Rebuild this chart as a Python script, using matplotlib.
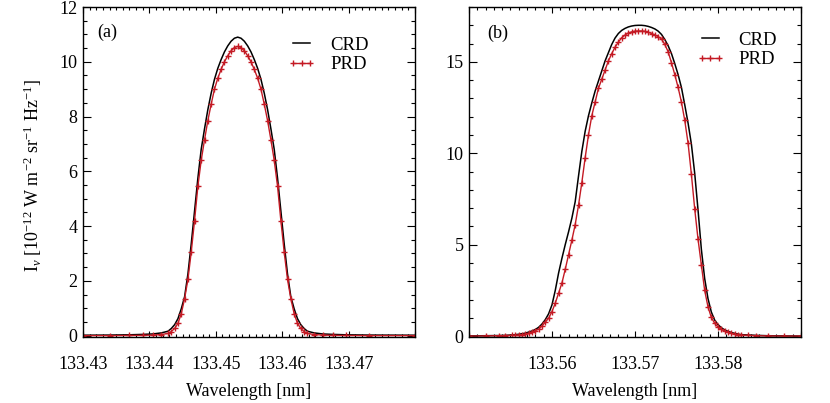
import matplotlib
matplotlib.use('Agg')
import matplotlib.pyplot as plt
from matplotlib.ticker import MultipleLocator, FixedLocator

plt.rcParams['font.family'] = ['Liberation Serif', 'DejaVu Serif']
plt.rcParams['mathtext.fontset'] = 'custom'
plt.rcParams['mathtext.rm'] = 'Liberation Serif'
plt.rcParams['mathtext.it'] = 'Liberation Serif:italic'

# ---------------------------------------------------------------------------
# Panel (a) data: wavelength [nm] and intensity [1e-12 W m-2 sr-1 Hz-1]
# ---------------------------------------------------------------------------
WL_A = [133.4300, 133.4340, 133.4370, 133.4390, 133.4405, 133.4418,
        133.4428, 133.4433, 133.4438, 133.4443, 133.4448, 133.4453, 133.4458,
        133.4463, 133.4468, 133.4473, 133.4478, 133.4483, 133.4488, 133.4493,
        133.4498, 133.4503, 133.4508, 133.4513, 133.4518, 133.4523, 133.4528,
        133.4533,
        133.4538, 133.4543, 133.4548, 133.4553, 133.4558, 133.4563, 133.4568,
        133.4573, 133.4578, 133.4583, 133.4588, 133.4593, 133.4598, 133.4603,
        133.4608, 133.4613, 133.4618, 133.4623, 133.4628, 133.4633, 133.4638,
        133.4648, 133.4661, 133.4676, 133.4696, 133.4730, 133.4800]

CRD_A = [0.015, 0.02, 0.03, 0.045, 0.06, 0.10,
         0.16, 0.26, 0.40, 0.62, 0.98, 1.42, 2.25,
         3.35, 4.55, 5.75, 6.80, 7.55, 8.25, 8.85,
         9.36, 9.76, 10.08, 10.36, 10.58, 10.75, 10.86,
         10.90,
         10.86, 10.75, 10.58, 10.36, 10.08, 9.76, 9.36,
         8.85, 8.25, 7.55, 6.80, 5.75, 4.55, 3.35,
         2.25, 1.42, 0.98, 0.62, 0.40, 0.26, 0.16,
         0.10, 0.06, 0.045, 0.03, 0.02, 0.015]

PRD_A = [0.0, 0.0, 0.005, 0.01, 0.02, 0.04,
         0.08, 0.15, 0.26, 0.45, 0.80, 1.35, 2.05,
         3.05, 4.20, 5.45, 6.40, 7.15, 7.85, 8.45,
         9.00, 9.40, 9.72, 10.00, 10.22, 10.40, 10.52,
         10.56,
         10.52, 10.40, 10.22, 10.00, 9.72, 9.40, 9.00,
         8.45, 7.85, 7.15, 6.40, 5.45, 4.20, 3.05,
         2.05, 1.35, 0.80, 0.45, 0.26, 0.15, 0.08,
         0.04, 0.02, 0.01, 0.005, 0.0, 0.0]

# ---------------------------------------------------------------------------
# Panel (b) data
# ---------------------------------------------------------------------------
WL_B = [133.5500, 133.5520, 133.5536, 133.5544,
        133.5552, 133.5556, 133.5560, 133.5564, 133.5568, 133.5572, 133.5576,
        133.5580, 133.5584, 133.5588, 133.5592, 133.5596, 133.5600, 133.5604,
        133.5608, 133.5612, 133.5616, 133.5620, 133.5624, 133.5628, 133.5632,
        133.5636, 133.5640, 133.5644, 133.5648, 133.5652, 133.5656, 133.5660,
        133.5664, 133.5668, 133.5672, 133.5676, 133.5680, 133.5684, 133.5688,
        133.5692, 133.5696, 133.5700, 133.5704, 133.5708, 133.5712, 133.5716,
        133.5720, 133.5724, 133.5728, 133.5732, 133.5736, 133.5740, 133.5744,
        133.5748, 133.5752, 133.5756, 133.5760, 133.5764, 133.5768, 133.5772,
        133.5776, 133.5780, 133.5784, 133.5788, 133.5792, 133.5796, 133.5800,
        133.5804, 133.5808, 133.5812, 133.5816, 133.5820, 133.5824, 133.5828,
        133.5836, 133.5846, 133.5860, 133.5880, 133.5900]

CRD_B = [0.01, 0.02, 0.03, 0.04,
         0.06, 0.08, 0.10, 0.13, 0.16, 0.22, 0.28,
         0.36, 0.48, 0.66, 0.90, 1.22, 1.70, 2.50,
         3.45, 4.25, 5.00, 5.70, 6.45, 7.35, 8.75,
         10.10, 11.20, 12.05, 12.75, 13.40, 13.95, 14.50,
         15.05, 15.50, 15.95, 16.30, 16.55, 16.72, 16.83,
         16.91, 16.96, 16.99, 17.00, 17.00, 16.98, 16.94,
         16.88, 16.80, 16.68, 16.50, 16.22, 15.88, 15.45,
         14.90, 14.30, 13.60, 12.65, 11.65, 10.50, 8.90,
         6.90, 4.75, 3.15, 2.05, 1.32, 0.88, 0.63,
         0.46, 0.34, 0.26, 0.20, 0.15, 0.11, 0.08,
         0.06, 0.04, 0.02, 0.01, 0.0]

PRD_B = [0.0, 0.01, 0.02, 0.03,
         0.04, 0.05, 0.06, 0.08, 0.11, 0.16, 0.23,
         0.30, 0.38, 0.55, 0.76, 0.98, 1.34, 1.80,
         2.35, 2.90, 3.65, 4.45, 5.25, 6.10, 7.15,
         8.40, 9.75, 11.00, 12.05, 12.80, 13.55, 14.05,
         14.55, 15.05, 15.45, 15.80, 16.08, 16.32, 16.47,
         16.58, 16.64, 16.68, 16.69, 16.69, 16.67, 16.62,
         16.55, 16.47, 16.38, 16.25, 15.95, 15.55, 14.95,
         14.30, 13.60, 12.80, 11.80, 10.55, 8.85, 6.95,
         5.30, 3.90, 2.50, 1.60, 1.02, 0.70, 0.50,
         0.36, 0.27, 0.20, 0.15, 0.11, 0.08, 0.06,
         0.04, 0.02, 0.01, 0.0, 0.0]

XTICKS_A = [133.43, 133.44, 133.45, 133.46, 133.47]
XTICKS_B = [133.56, 133.57, 133.58]

RED = '#c41a24'


def style_axes(ax, xminor, yminor):
    for s in ax.spines.values():
        s.set_linewidth(1.0)
    ax.xaxis.set_minor_locator(MultipleLocator(xminor))
    ax.yaxis.set_minor_locator(MultipleLocator(yminor))
    ax.tick_params(axis='both', which='both', direction='in',
                   top=True, right=True, width=0.8, labelsize=13)
    ax.tick_params(axis='x', which='major', length=4, pad=14)
    ax.tick_params(axis='x', which='minor', length=2)
    ax.tick_params(axis='y', which='major', length=6, pad=4)
    ax.tick_params(axis='y', which='minor', length=3)
    ax.set_xlabel('Wavelength [nm]', fontsize=13, labelpad=7)


def draw_panel(ax, wl, crd, prd):
    ax.plot(wl, crd, color='black', lw=1.1, label='CRD')
    ax.plot(wl, prd, color=RED, lw=1.0, marker='+', ms=4, mew=1.0,
            label='PRD')


fig = plt.figure(figsize=(8.3, 4.03), dpi=100)
ax1 = fig.add_axes([0.100, 0.1638, 0.400, 0.8188])
ax2 = fig.add_axes([0.565, 0.1638, 0.400, 0.8188])

# Panel (a)
draw_panel(ax1, WL_A, CRD_A, PRD_A)
ax1.set_xlim(133.43, 133.48)
ax1.set_ylim(-0.05, 12)
ax1.xaxis.set_major_locator(FixedLocator(XTICKS_A + [133.48]))
ax1.set_xticklabels([f'{v:.2f}' for v in XTICKS_A] + [''])
ax1.yaxis.set_major_locator(MultipleLocator(2))
style_axes(ax1, 0.001, 0.5)
ax1.set_ylabel(r'I$_\nu$ [10$^{-12}$ W m$^{-2}$ sr$^{-1}$ Hz$^{-1}$]',
               fontsize=13)
ax1.yaxis.set_label_coords(-0.117, 0.49)
ax1.text(0.042, 0.924, '(a)', transform=ax1.transAxes, fontsize=13,
         va='center', ha='left')
ax1.legend(loc='upper left', bbox_to_anchor=(0.617, 0.91), frameon=False,
           fontsize=13.5, handlelength=1.5, handletextpad=0.75,
           labelspacing=0.12, borderpad=0, borderaxespad=0, numpoints=3)

# Panel (b)
draw_panel(ax2, WL_B, CRD_B, PRD_B)
ax2.set_xlim(133.55, 133.59)
ax2.set_ylim(-0.05, 18)
ax2.xaxis.set_major_locator(FixedLocator([133.55] + XTICKS_B + [133.59]))
ax2.set_xticklabels([''] + [f'{v:.2f}' for v in XTICKS_B] + [''])
ax2.yaxis.set_major_locator(MultipleLocator(5))
style_axes(ax2, 0.001, 1)
ax2.text(0.054, 0.921, '(b)', transform=ax2.transAxes, fontsize=13,
         va='center', ha='left')
ax2.legend(loc='upper left', bbox_to_anchor=(0.684, 0.925), frameon=False,
           fontsize=13.5, handlelength=1.5, handletextpad=0.75,
           labelspacing=0.12, borderpad=0, borderaxespad=0, numpoints=3)

fig.savefig('out.png', dpi=100)
